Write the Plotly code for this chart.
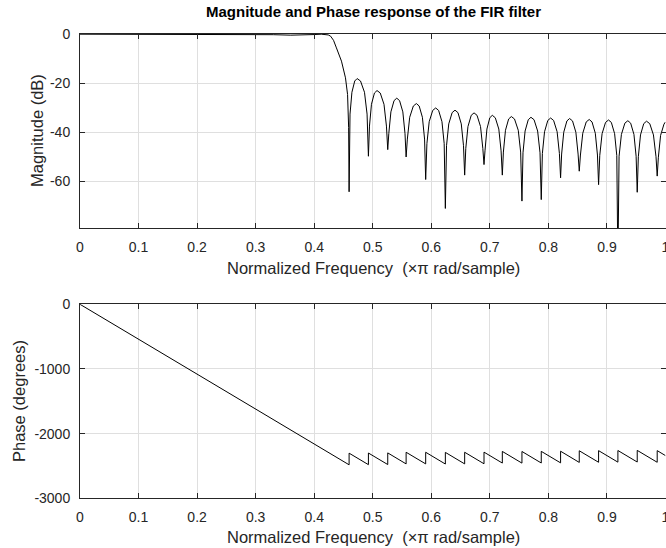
import plotly.graph_objects as go

# ---- Magnitude response (dB) ----
mag_freq = [
    0.0, 0.05, 0.10, 0.15, 0.20, 0.25, 0.30, 0.33, 0.36, 0.38, 0.40, 0.412, 0.42,
    0.424, 0.428, 0.433, 0.438, 0.4466, 0.4534, 0.457, 0.4588, 0.4596,
    0.4612, 0.4644, 0.4692, 0.4733, 0.4791, 0.4859, 0.4903, 0.4926,
    0.4944, 0.4978, 0.5029, 0.5073, 0.5128, 0.5192, 0.5234, 0.5256,
    0.5274, 0.5310, 0.5364, 0.5410, 0.5458, 0.5514, 0.5551, 0.5570,
    0.5591, 0.5631, 0.5693, 0.5745, 0.5793, 0.5848, 0.5885, 0.5904,
    0.5925, 0.5964, 0.6024, 0.6075, 0.6125, 0.6182, 0.6220, 0.6240,
    0.6260, 0.6298, 0.6356, 0.6405, 0.6455, 0.6512, 0.6550, 0.6570,
    0.6589, 0.6626, 0.6682, 0.6730, 0.6781, 0.6841, 0.6880, 0.6900,
    0.6917, 0.6950, 0.6999, 0.7042, 0.7093, 0.7153, 0.7192, 0.7213,
    0.7231, 0.7267, 0.7321, 0.7367, 0.7421, 0.7485, 0.7526, 0.7548,
    0.7566, 0.7602, 0.7656, 0.7702, 0.7755, 0.7816, 0.7857, 0.7878,
    0.7897, 0.7934, 0.7990, 0.8038, 0.8089, 0.8149, 0.8188, 0.8208,
    0.8226, 0.8262, 0.8316, 0.8362, 0.8412, 0.8469, 0.8507, 0.8527,
    0.8547, 0.8587, 0.8646, 0.8697, 0.8745, 0.8801, 0.8838, 0.8857,
    0.8877, 0.8917, 0.8976, 0.9027, 0.9075, 0.9131, 0.9168, 0.9187,
    0.9207, 0.9247, 0.9306, 0.9357, 0.9405, 0.9461, 0.9498, 0.9517,
    0.9536, 0.9573, 0.9628, 0.9676, 0.9731, 0.9794, 0.9838, 0.9858,
    0.9878, 0.9916, 0.9974, 1.0,
]
mag_db = [
    0.0, 0.0, -0.05, 0.0, -0.05, 0.0, -0.1, -0.2, -0.4, -0.4, -0.15, 0.0, -0.1,
    -0.3, -0.8, -2.5, -5.6, -11.0, -17.8, -24.6, -38.0, -64.3,
    -32.6, -23.7, -19.1, -18.1, -19.1, -23.7, -32.6, -49.8,
    -37.5, -28.6, -24.0, -23.0, -24.0, -28.6, -37.5, -47.1,
    -40.6, -31.7, -27.1, -26.1, -27.1, -31.7, -40.6, -50.1,
    -42.8, -33.9, -29.3, -28.3, -29.3, -33.9, -42.8, -59.3,
    -44.6, -35.7, -31.1, -30.1, -31.1, -35.7, -44.6, -71.1,
    -45.5, -36.6, -32.0, -31.0, -32.0, -36.6, -45.5, -57.5,
    -46.6, -37.7, -33.1, -32.1, -33.1, -37.7, -46.6, -53.2,
    -47.6, -38.7, -34.1, -33.1, -34.1, -38.7, -47.6, -57.5,
    -48.1, -39.2, -34.6, -33.6, -34.6, -39.2, -48.1, -68.1,
    -48.4, -39.5, -34.9, -33.9, -34.9, -39.5, -48.4, -67.5,
    -48.7, -39.8, -35.2, -34.2, -35.2, -39.8, -48.7, -58.6,
    -48.9, -40.0, -35.4, -34.4, -35.4, -40.0, -48.9, -55.9,
    -49.3, -40.4, -35.8, -34.8, -35.8, -40.4, -49.3, -61.4,
    -49.5, -40.6, -36.0, -35.0, -36.0, -40.6, -49.5, -95.0,
    -49.8, -40.9, -36.3, -35.3, -36.3, -40.9, -49.8, -64.5,
    -50.0, -41.1, -36.5, -35.5, -36.5, -41.1, -50.0, -57.9,
    -50.2, -41.3, -36.7, -35.8,
]

# ---- Phase response (degrees) ----
phase_freq = [
    0.0, 0.4596, 0.4596, 0.4926, 0.4926, 0.5256, 0.5256, 0.5570, 0.5570,
    0.5904, 0.5904, 0.6240, 0.6240, 0.6570, 0.6570, 0.6900, 0.6900,
    0.7213, 0.7213, 0.7548, 0.7548, 0.7878, 0.7878, 0.8208, 0.8208,
    0.8527, 0.8527, 0.8857, 0.8857, 0.9187, 0.9187, 0.9517, 0.9517,
    0.9858, 0.9858, 1.0,
]
phase_deg = [
    0, -2482, -2302, -2480, -2300, -2478, -2298, -2468, -2288,
    -2468, -2288, -2470, -2290, -2468, -2288, -2466, -2286,
    -2455, -2275, -2456, -2276, -2454, -2274, -2452, -2272,
    -2445, -2265, -2443, -2263, -2441, -2261, -2439, -2259,
    -2443, -2263, -2340,
]

x_ticks = [0, 0.1, 0.2, 0.3, 0.4, 0.5, 0.6, 0.7, 0.8, 0.9, 1]
x_tick_text = ["0", "0.1", "0.2", "0.3", "0.4", "0.5", "0.6", "0.7", "0.8", "0.9", "1"]
mag_ticks = [0, -20, -40, -60]
mag_tick_text = ["0", "-20", "-40", "-60"]
phase_ticks = [0, -1000, -2000, -3000]
phase_tick_text = ["0", "-1000", "-2000", "-3000"]

title_text = "<b>Magnitude and Phase response of the FIR filter</b>"
xlabel = "Normalized Frequency  (\u00d7\u03c0 rad/sample)"
mag_label = "Magnitude (dB)"
phase_label = "Phase (degrees)"

W, H = 666, 548
FONT = "Liberation Sans, Arial, Helvetica, sans-serif"
AX = "rgb(38,38,38)"
GRID = "rgb(223,223,223)"
LBL = 16.5

fig = go.Figure()
fig.add_trace(go.Scatter(x=mag_freq, y=mag_db, mode="lines",
                         line=dict(color="black", width=1), xaxis="x", yaxis="y",
                         showlegend=False, hoverinfo="skip"))
fig.add_trace(go.Scatter(x=phase_freq, y=phase_deg, mode="lines",
                         line=dict(color="black", width=1), xaxis="x2", yaxis="y2",
                         showlegend=False, hoverinfo="skip"))

def px_x(p):
    return p / W

def px_y(p):
    return 1 - p / H

common_x = dict(range=[0, 1], tickvals=x_ticks, ticktext=x_tick_text,
                showgrid=True, gridcolor=GRID, gridwidth=1, zeroline=False,
                showline=True, linecolor=AX, linewidth=1, mirror="ticks",
                ticks="inside", ticklen=5, tickcolor=AX, automargin=False,
                ticklabeloverflow="allow", ticklabelstandoff=6,
                tickfont=dict(family=FONT, size=14, color=AX))
common_y = dict(showgrid=True, gridcolor=GRID, gridwidth=1, zeroline=False,
                showline=True, linecolor=AX, linewidth=1, mirror="ticks",
                ticks="inside", ticklen=5, tickcolor=AX, automargin=False,
                ticklabeloverflow="allow", ticklabelstandoff=6,
                tickfont=dict(family=FONT, size=14, color=AX))

x0, x1 = px_x(80), px_x(665.5)
fig.update_layout(
    width=W, height=H,
    margin=dict(l=0, r=0, t=0, b=0, autoexpand=False),
    paper_bgcolor="white", plot_bgcolor="white",
    font=dict(family=FONT, color=AX),
    xaxis=dict(domain=[x0, x1], anchor="y", **common_x),
    yaxis=dict(domain=[px_y(228.3), px_y(33.7)], anchor="x",
               range=[-79.2, 0.2], tickvals=mag_ticks, ticktext=mag_tick_text, **common_y),
    xaxis2=dict(domain=[x0, x1], anchor="y2", **common_x),
    yaxis2=dict(domain=[px_y(498.3), px_y(304.3)], anchor="x2",
                range=[-3000, 0], tickvals=phase_ticks, ticktext=phase_tick_text, **common_y),
    annotations=[
        dict(text=title_text, x=(80 + 666) / 2 / W, y=px_y(12), xref="paper", yref="paper",
             xanchor="center", yanchor="middle", showarrow=False,
             font=dict(family=FONT, size=15, color="black")),
        dict(text=xlabel, x=(80 + 666) / 2 / W, y=px_y(268), xref="paper", yref="paper",
             xanchor="center", yanchor="middle", showarrow=False,
             font=dict(family=FONT, size=LBL, color=AX)),
        dict(text=xlabel, x=(80 + 666) / 2 / W, y=px_y(537), xref="paper", yref="paper",
             xanchor="center", yanchor="middle", showarrow=False,
             font=dict(family=FONT, size=LBL, color=AX)),
        dict(text=mag_label, x=px_x(37), y=px_y(131), xref="paper", yref="paper",
             xanchor="center", yanchor="middle", showarrow=False, textangle=-90,
             font=dict(family=FONT, size=LBL, color=AX)),
        dict(text=phase_label, x=px_x(19), y=px_y(401), xref="paper", yref="paper",
             xanchor="center", yanchor="middle", showarrow=False, textangle=-90,
             font=dict(family=FONT, size=LBL, color=AX)),
    ],
)

fig.write_html("out.html")
